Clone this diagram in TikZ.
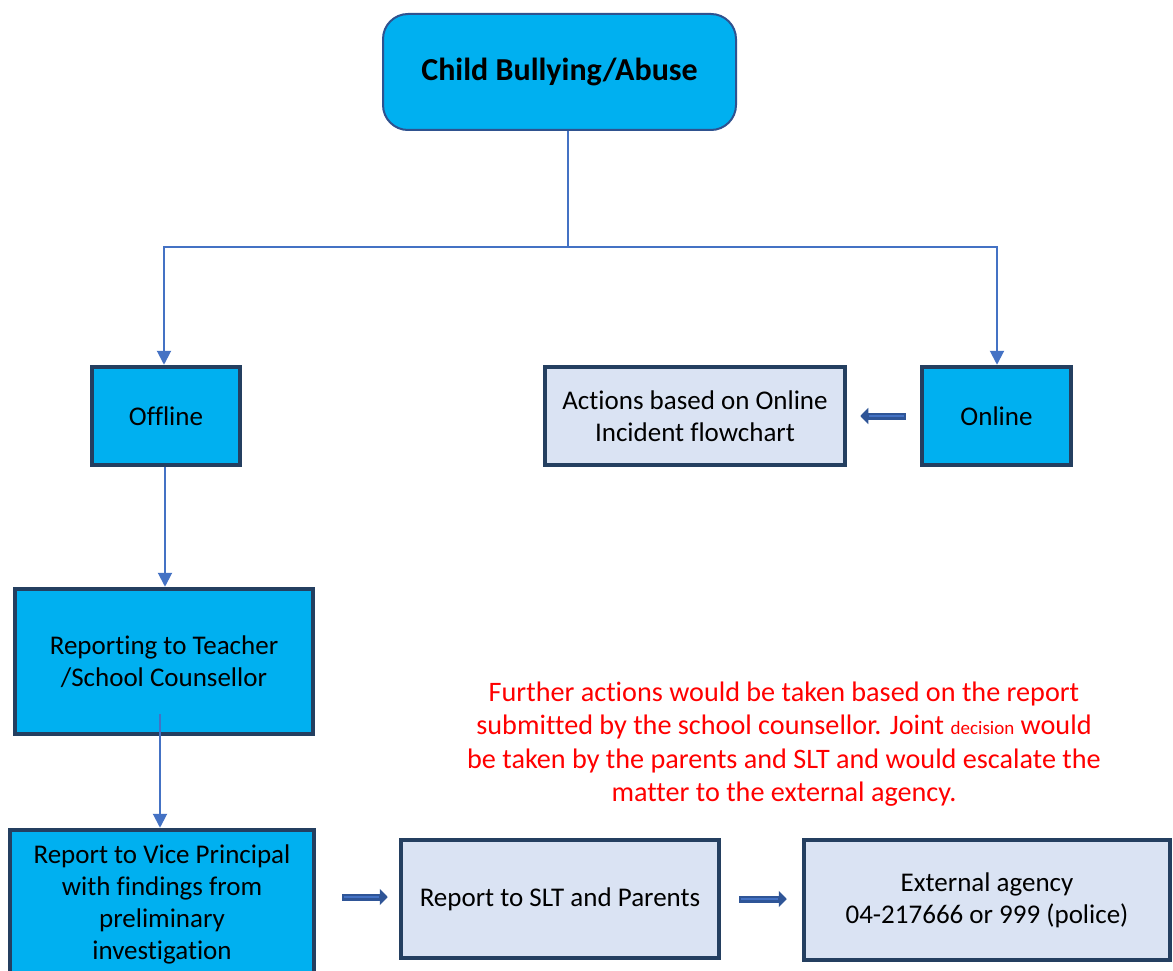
\documentclass[tikz,border=0pt]{standalone}
\usepackage{fontspec}
\setmainfont[Ligatures=NoCommon]{Carlito}
\usetikzlibrary{arrows.meta}
\definecolor{boxcyan}{HTML}{00B0F0}
\definecolor{boxpale}{HTML}{DAE3F3}
\definecolor{boxedge}{HTML}{243F60}
\definecolor{topedge}{HTML}{2F528F}
\definecolor{flowblue}{HTML}{4472C4}
\definecolor{blockedge}{HTML}{2F5597}
\begin{document}
\begin{tikzpicture}[x=1pt,y=-1pt,
    every node/.style={font=\fontsize{27}{32}\selectfont, align=center, inner sep=0pt},
    cyanbox/.style={draw=boxedge, line width=4.5pt, fill=boxcyan},
    palebox/.style={draw=boxedge, line width=4.5pt, fill=boxpale},
    flow/.style={draw=flowblue, line width=2pt, -{Triangle[length=14pt,width=14pt]}},
    blockout/.style={draw=blockedge, line width=7pt, -{Triangle[length=8pt,width=16pt]}},
    blockin/.style={draw=flowblue, line width=2.5pt, shorten >=9pt, shorten <=1.5pt}]
  \clip (0,0) rectangle (1173,971);
  \fill[white] (0,0) rectangle (1173,971);
  \node (top) at (559.5,72) [draw=topedge, line width=2pt, fill=boxcyan, rounded corners=25pt,
    minimum width=353pt, minimum height=116pt, font=\fontsize{32}{38}\selectfont\bfseries] {\raisebox{-2pt}{Child Bullying/Abuse}};
  \node (offline) at (166,416) [cyanbox, minimum width=148pt, minimum height=98pt] {Offline};
  \node (online) at (996.5,416) [cyanbox, minimum width=149pt, minimum height=98pt] {Online};
  \node (actions) at (695,416) [palebox, minimum width=300pt, minimum height=98pt] {Actions based on Online\\Incident flowchart};
  \node (reporting) at (164,661.5) [cyanbox, minimum width=298pt, minimum height=145pt] {Reporting to Teacher\\/School Counsellor};
  \node (vp) at (162,904) [cyanbox, minimum width=304pt, minimum height=148pt] {Report to Vice Principal\\with findings from\\preliminary\\investigation};
  \node (slt) at (560,899) [palebox, minimum width=318pt, minimum height=118pt] {Report to SLT and Parents};
  \node (ext) at (987,900) [palebox, minimum width=366pt, minimum height=120pt] {External agency\\04-217666 or 999 (police)};
  \node (note) at (784,744) [text=red, font=\fontsize{28.2}{33.3}\selectfont] {Further actions would be taken based on the report\\submitted by the school counsellor. Joint {\fontsize{19}{20}\selectfont decision} would\\be taken by the parents and SLT and would escalate the\\matter to the external agency.};

  \coordinate (split) at (568,247);
  \draw[flowblue, line width=1.3pt] ([xshift=8.5pt]top.south) -- (split);
  \draw[flow] (split) -| ([xshift=-2pt]offline.north);
  \draw[flow] (split) -| ([xshift=0.5pt]online.north);
  \draw[flow] ([xshift=-1pt]offline.south) -- ([xshift=-1pt]offline.south |- reporting.north);
  \draw[flow] ([xshift=-4pt,yshift=22pt]reporting.south) -- ([xshift=-4pt]reporting.south |- vp.north);

  \draw[blockout] ([xshift=-14pt]online.west) -- ([xshift=13pt]actions.east);
  \draw[blockin] ([xshift=-14pt]online.west) -- ([xshift=13pt]actions.east);
  \draw[blockout] ([xshift=26pt,yshift=7pt]vp.east) -- ([xshift=-11pt,yshift=2pt]slt.west);
  \draw[blockin] ([xshift=26pt,yshift=7pt]vp.east) -- ([xshift=-11pt,yshift=2pt]slt.west);
  \draw[blockout] ([xshift=18pt]slt.east) -- ([xshift=-15pt]slt.east -| ext.west);
  \draw[blockin] ([xshift=18pt]slt.east) -- ([xshift=-15pt]slt.east -| ext.west);
\end{tikzpicture}
\end{document}
